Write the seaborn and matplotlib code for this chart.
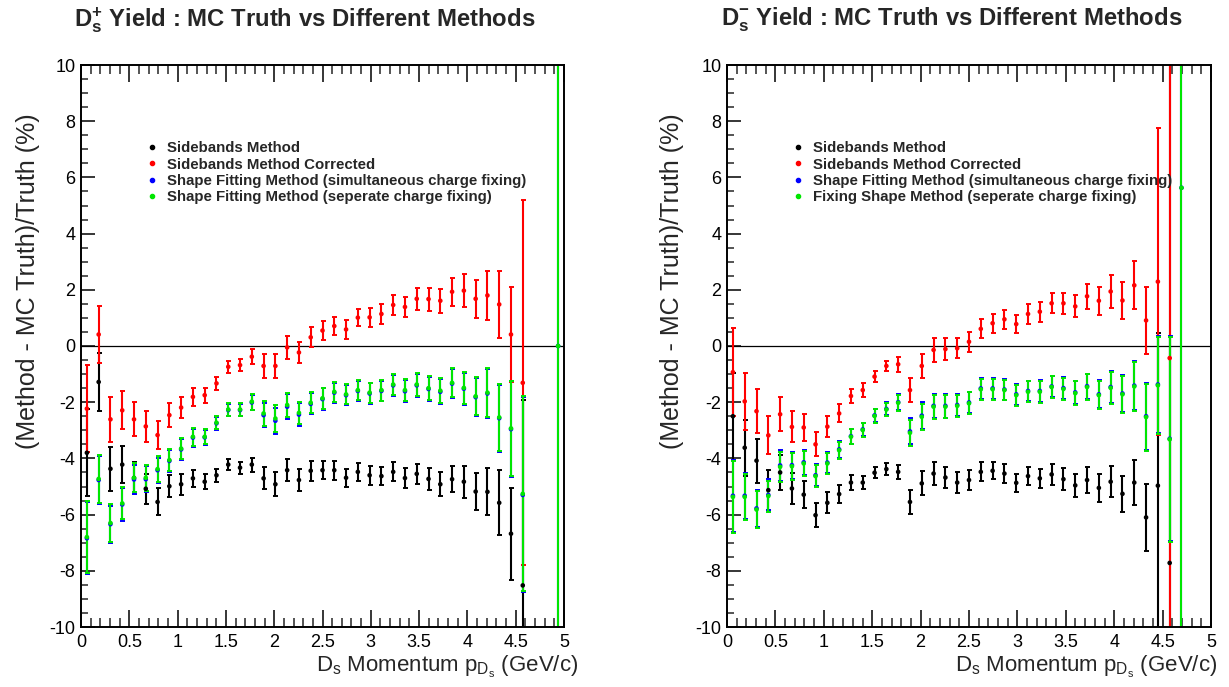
import numpy as np
import matplotlib
matplotlib.use("Agg")
import matplotlib.pyplot as plt
from matplotlib.ticker import MultipleLocator, FuncFormatter
from matplotlib.lines import Line2D
import seaborn as sns

sns.set_theme(style="white")
plt.rcParams["font.family"] = ["Liberation Sans", "DejaVu Sans"]
plt.rcParams["axes.unicode_minus"] = False
plt.rcParams["mathtext.fontset"] = "custom"
plt.rcParams["mathtext.rm"] = "Liberation Sans"
plt.rcParams["mathtext.it"] = "Liberation Sans"
plt.rcParams["mathtext.bf"] = "Liberation Sans:bold"

# momentum binning: 41 bins between 0 and 5 GeV/c
N_BINS = 41
P_MAX = 5.0
bin_centers = (np.arange(N_BINS) + 0.5) * P_MAX / N_BINS
nan = np.nan

# ---------------- D_s^+ ----------------
plus_side_val = [-3.80, -1.28, -4.37, -4.22, -4.70, -5.08, -5.55, -4.99, -4.92, -4.71,
                 -4.83, -4.60, -4.22, -4.33, -4.22, -4.71, -4.92, -4.42, -4.77, -4.44,
                 -4.42, -4.42, -4.69, -4.48, -4.60, -4.63, -4.48, -4.70, -4.55, -4.73,
                 -4.92, -4.74, -4.83, -5.18, -5.19, -5.58, -6.68, -8.52, nan, nan, nan]
plus_side_err = [1.55, 1.02, 0.79, 0.67, 0.58, 0.53, 0.48, 0.40, 0.37, 0.30,
                 0.27, 0.24, 0.19, 0.21, 0.25, 0.39, 0.42, 0.40, 0.38, 0.36,
                 0.33, 0.34, 0.32, 0.31, 0.33, 0.33, 0.34, 0.36, 0.36, 0.40,
                 0.42, 0.47, 0.57, 0.66, 0.84, 1.15, 1.63, 6.60, nan, nan, nan]

plus_corr_val = [-2.23, 0.41, -2.61, -2.29, -2.61, -2.86, -3.17, -2.46, -2.19, -1.81,
                 -1.75, -1.33, -0.74, -0.68, -0.38, -0.71, -0.71, -0.05, -0.23, 0.31,
                 0.55, 0.71, 0.59, 1.01, 1.02, 1.14, 1.46, 1.39, 1.68, 1.67,
                 1.61, 1.93, 1.97, 1.68, 1.80, 1.48, 0.41, -1.31, nan, nan, nan]
plus_corr_err = [1.54, 1.02, 0.79, 0.68, 0.61, 0.55, 0.49, 0.43, 0.38, 0.32,
                 0.27, 0.24, 0.21, 0.21, 0.27, 0.42, 0.44, 0.40, 0.39, 0.36,
                 0.33, 0.33, 0.34, 0.31, 0.34, 0.34, 0.34, 0.36, 0.39, 0.41,
                 0.42, 0.49, 0.58, 0.68, 0.86, 1.20, 1.70, 6.50, nan, nan, nan]

plus_simul_val = [-6.84, -4.77, -6.34, -5.64, -4.75, -4.74, -4.42, -4.09, -3.68, -3.26,
                  -3.25, -2.75, -2.28, -2.28, -2.01, -2.46, -2.66, -2.16, -2.44, -2.06,
                  -1.89, -1.66, -1.75, -1.60, -1.69, -1.60, -1.40, -1.61, -1.40, -1.53,
                  -1.63, -1.34, -1.52, -1.82, -1.69, -2.57, -2.96, -5.30, nan, nan, 0.0]
plus_simul_err = [1.29, 0.84, 0.66, 0.57, 0.52, 0.46, 0.45, 0.40, 0.38, 0.32,
                  0.27, 0.24, 0.22, 0.22, 0.28, 0.43, 0.47, 0.44, 0.40, 0.37,
                  0.38, 0.36, 0.36, 0.36, 0.36, 0.37, 0.37, 0.39, 0.41, 0.42,
                  0.44, 0.51, 0.57, 0.68, 0.86, 1.19, 1.70, 3.47, nan, nan, 20.0]

plus_sep_val = [-6.80, -4.73, -6.30, -5.60, -4.69, -4.69, -4.38, -4.06, -3.65, -3.23,
                -3.23, -2.73, -2.26, -2.26, -1.98, -2.40, -2.58, -2.10, -2.38, -2.02,
                -1.86, -1.63, -1.72, -1.57, -1.66, -1.57, -1.37, -1.57, -1.37, -1.50,
                -1.59, -1.31, -1.49, -1.79, -1.66, -2.54, -2.93, -5.26, nan, nan, 0.0]
plus_sep_err = [1.29, 0.84, 0.66, 0.57, 0.52, 0.46, 0.45, 0.40, 0.38, 0.32,
                0.27, 0.24, 0.22, 0.22, 0.28, 0.43, 0.47, 0.44, 0.40, 0.37,
                0.38, 0.36, 0.36, 0.36, 0.36, 0.37, 0.37, 0.39, 0.41, 0.42,
                0.44, 0.51, 0.57, 0.68, 0.86, 1.19, 1.70, 3.47, nan, nan, 20.0]

# ---------------- D_s^- ----------------
minus_side_val = [-2.50, -3.62, -4.08, -5.13, -4.50, -5.07, -5.29, -6.02, -5.58, -5.27,
                  -4.86, -4.86, -4.51, -4.38, -4.48, -5.55, -4.89, -4.54, -4.68, -4.86,
                  -4.77, -4.48, -4.44, -4.54, -4.87, -4.63, -4.71, -4.57, -4.74, -4.96,
                  -4.77, -5.05, -4.83, -5.26, -4.86, -6.10, -4.97, -7.72, nan, nan, nan]
minus_side_err = [1.55, 1.00, 0.78, 0.70, 0.62, 0.56, 0.48, 0.42, 0.37, 0.31,
                  0.26, 0.23, 0.20, 0.20, 0.26, 0.42, 0.43, 0.41, 0.39, 0.37,
                  0.36, 0.34, 0.31, 0.33, 0.33, 0.33, 0.34, 0.36, 0.39, 0.41,
                  0.45, 0.49, 0.55, 0.65, 0.81, 1.19, 5.45, 20.0, nan, nan, nan]

minus_corr_val = [-0.93, -1.97, -2.32, -3.18, -2.43, -2.88, -2.90, -3.50, -2.87, -2.40,
                  -1.78, -1.57, -1.09, -0.71, -0.65, -1.57, -0.71, -0.14, -0.11, -0.08,
                  0.15, 0.61, 0.81, 0.95, 0.78, 1.14, 1.22, 1.52, 1.52, 1.41,
                  1.77, 1.61, 1.94, 1.62, 2.16, 0.91, 2.29, -0.43, nan, nan, nan]
minus_corr_err = [1.57, 1.02, 0.79, 0.68, 0.61, 0.55, 0.48, 0.43, 0.37, 0.32,
                  0.26, 0.24, 0.20, 0.19, 0.27, 0.42, 0.43, 0.42, 0.39, 0.36,
                  0.36, 0.34, 0.34, 0.33, 0.33, 0.34, 0.36, 0.36, 0.38, 0.39,
                  0.44, 0.49, 0.58, 0.65, 0.85, 1.20, 5.47, 20.0, nan, nan, nan]

minus_simul_val = [-5.33, -5.33, -5.78, -5.30, -4.25, -4.24, -4.14, -4.60, -4.15, -3.68,
                   -3.21, -2.97, -2.47, -2.24, -2.00, -3.04, -2.48, -2.13, -2.13, -2.10,
                   -2.01, -1.51, -1.51, -1.55, -1.72, -1.60, -1.60, -1.44, -1.50, -1.65,
                   -1.43, -1.72, -1.46, -1.69, -1.41, -2.50, -1.37, -3.30, 5.63, nan, nan]
minus_simul_err = [1.29, 0.82, 0.65, 0.55, 0.54, 0.48, 0.44, 0.39, 0.36, 0.31,
                   0.26, 0.24, 0.24, 0.23, 0.28, 0.46, 0.47, 0.43, 0.42, 0.39,
                   0.39, 0.37, 0.37, 0.36, 0.37, 0.37, 0.39, 0.39, 0.40, 0.42,
                   0.45, 0.50, 0.58, 0.65, 0.86, 1.19, 1.73, 3.64, 20.0, nan, nan]

minus_sep_val = [-5.37, -5.37, -5.82, -5.34, -4.30, -4.28, -4.18, -4.63, -4.18, -3.71,
                 -3.23, -2.99, -2.49, -2.26, -2.02, -3.09, -2.52, -2.16, -2.16, -2.13,
                 -2.04, -1.54, -1.54, -1.57, -1.75, -1.63, -1.63, -1.46, -1.53, -1.68,
                 -1.46, -1.75, -1.49, -1.72, -1.44, -2.53, -1.40, -3.32, 5.63, nan, nan]
minus_sep_err = [1.29, 0.82, 0.65, 0.55, 0.54, 0.48, 0.44, 0.39, 0.36, 0.31,
                 0.26, 0.24, 0.24, 0.23, 0.28, 0.46, 0.47, 0.43, 0.42, 0.39,
                 0.39, 0.37, 0.37, 0.36, 0.37, 0.37, 0.39, 0.39, 0.40, 0.42,
                 0.45, 0.50, 0.58, 0.65, 0.86, 1.19, 1.73, 3.64, 20.0, nan, nan]

titles = [r"$\mathbf{D_{s}^{+}}$ Yield : MC Truth vs Different Methods",
          r"$\mathbf{D_{s}^{-}}$ Yield : MC Truth vs Different Methods"]
labels_plus = ["Sidebands Method",
               "Sidebands Method Corrected",
               "Shape Fitting Method (simultaneous charge fixing)",
               "Shape Fitting Method (seperate charge fixing)"]
labels_minus = ["Sidebands Method",
                "Sidebands Method Corrected",
                "Shape Fitting Method (simultaneous charge fixing)",
                "Fixing Shape Method (seperate charge fixing)"]
colors = ["#000000", "#ff0000", "#0000ff", "#00e600"]
x_label = r"D$_{\rm s}$ Momentum p$_{\rm D_s}$ (GeV/c)"
y_label = "(Method - MC Truth)/Truth (%)"

panels = [
    (titles[0], labels_plus,
     [(plus_side_val, plus_side_err), (plus_corr_val, plus_corr_err),
      (plus_simul_val, plus_simul_err), (plus_sep_val, plus_sep_err)]),
    (titles[1], labels_minus,
     [(minus_side_val, minus_side_err), (minus_corr_val, minus_corr_err),
      (minus_simul_val, minus_simul_err), (minus_sep_val, minus_sep_err)]),
]

W, H = 1229, 687
fig = plt.figure(figsize=(W / 100, H / 100), dpi=100)
fig.patch.set_facecolor("white")

ax_boxes = [(81, 65, 564, 627), (727, 65, 1211, 627)]
title_centers = [305, 952]
ylabel_x = [28, 672]
xlabel_end = [1.03, 1.012]

for k, (title, labels, series) in enumerate(panels):
    x0, y0, x1, y1 = ax_boxes[k]
    ax = fig.add_axes([x0 / W, 1 - y1 / H, (x1 - x0) / W, (y1 - y0) / H])
    ax.set_facecolor("white")
    ax.axhline(0, color="black", lw=0.9, zorder=1)

    for (vals, errs), col in zip(series, colors):
        v = np.array(vals, dtype=float)
        e = np.array(errs, dtype=float)
        ok = ~np.isnan(v)
        ax.errorbar(bin_centers[ok], v[ok], yerr=e[ok], fmt="none", ecolor=col,
                    elinewidth=1.5, capsize=1.8, capthick=1.4, zorder=2)
        sns.scatterplot(x=bin_centers[ok], y=v[ok], ax=ax, color=col, s=11,
                        edgecolor="none", zorder=3, legend=False)

    ax.set_xlim(0, 5)
    ax.set_ylim(-10, 10)
    ax.xaxis.set_major_locator(MultipleLocator(0.5))
    ax.xaxis.set_minor_locator(MultipleLocator(0.1))
    ax.yaxis.set_major_locator(MultipleLocator(2))
    ax.yaxis.set_minor_locator(MultipleLocator(0.5))
    ax.xaxis.set_major_formatter(FuncFormatter(lambda v, p: f"{v:g}"))
    ax.yaxis.set_major_formatter(FuncFormatter(lambda v, p: f"{v:g}"))
    ax.tick_params(axis="x", which="major", direction="in", length=12, width=1.1,
                   top=True, bottom=True, labelsize=13, pad=5, colors="black")
    ax.tick_params(axis="x", which="minor", direction="in", length=6.5, width=1.1,
                   top=True, bottom=True)
    ax.tick_params(axis="y", which="major", direction="in", length=10, width=1.1,
                   left=True, right=False, labelsize=13, pad=4, colors="black")
    ax.tick_params(axis="y", which="minor", direction="in", length=5, width=1.1,
                   left=True, right=False)
    for sp in ax.spines.values():
        sp.set_color("black")
        sp.set_linewidth(1.4)
    ax.grid(False)
    ax.set_xlabel(x_label, fontsize=16, ha="right", x=xlabel_end[k], labelpad=2)
    ax.set_ylabel("")

    fig.text(ylabel_x[k] / W, 1 - 281 / H, y_label, rotation=90, fontsize=18,
             ha="center", va="center")
    fig.text(title_centers[k] / W, 1 - 20 / H, title, fontsize=17.2, fontweight="bold",
             ha="center", va="center")

    handles = [Line2D([0], [0], marker="o", ls="none", color=c, markersize=3)
               for c in colors]
    ax.legend(handles, labels, loc="upper left", bbox_to_anchor=(0.125, 0.875),
              frameon=False, handlelength=0.6, handletextpad=0.7,
              labelspacing=0.16, borderaxespad=0,
              prop={"family": "Liberation Sans", "weight": "bold", "size": 10.8})

fig.savefig("out.png", dpi=100, facecolor="white")
